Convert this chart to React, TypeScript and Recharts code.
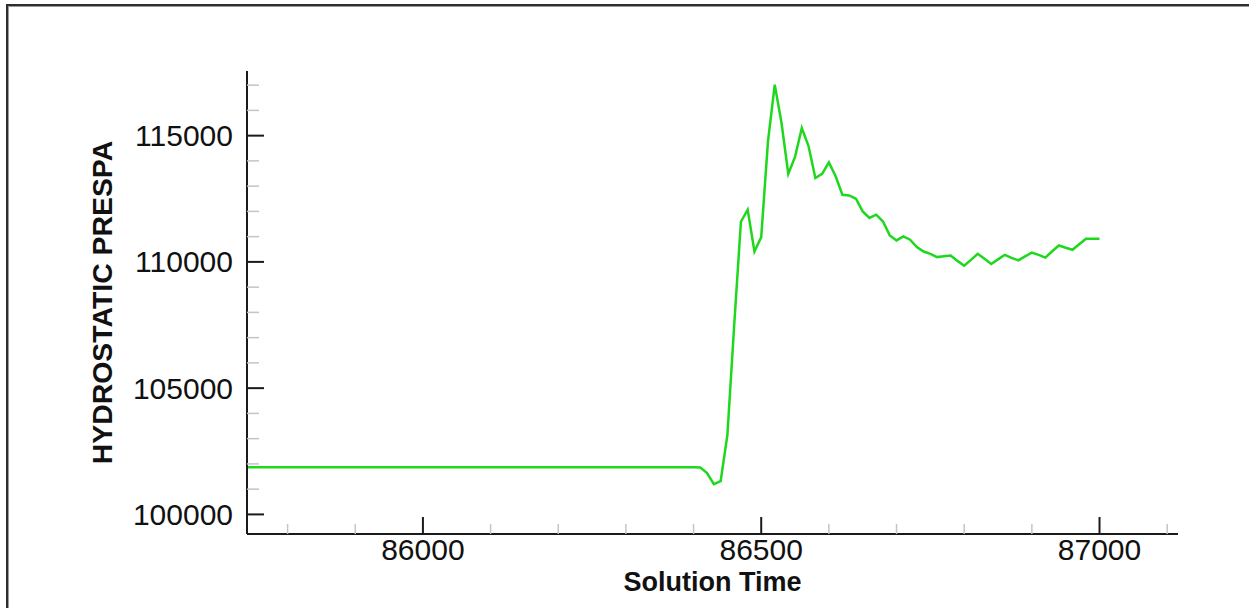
import { LineChart, Line, XAxis, YAxis } from 'recharts'

const solutionTime = [
  85740, 85800, 85900, 86000, 86100, 86200, 86300, 86400, 86410, 86420,
  86430, 86440, 86450, 86460, 86470, 86480, 86490, 86500, 86510, 86520,
  86530, 86540, 86550, 86560, 86570, 86580, 86590, 86600, 86610, 86620,
  86630, 86640, 86650, 86660, 86670, 86680, 86690, 86700, 86710, 86720,
  86730, 86740, 86750, 86760, 86770, 86780, 86790, 86800, 86810, 86820,
  86830, 86840, 86850, 86860, 86870, 86880, 86890, 86900, 86910, 86920,
  86930, 86940, 86950, 86960, 86970, 86980, 86990, 87000,
]

const hydrostaticPrespa = [
  101870, 101870, 101870, 101870, 101870, 101870, 101870, 101870, 101860, 101640,
  101200, 101320, 103140, 107470, 111590, 112070, 110410, 110980, 114770, 117020,
  115500, 113490, 114160, 115300, 114580, 113320, 113490, 113940, 113390, 112660,
  112630, 112500, 112000, 111740, 111870, 111600, 111050, 110850, 111010, 110880,
  110590, 110410, 110320, 110190, 110220, 110250, 110040, 109850, 110080, 110320,
  110120, 109920, 110100, 110280, 110160, 110060, 110220, 110370, 110280, 110170,
  110420, 110650, 110560, 110480, 110700, 110920, 110920, 110920,
]

const xTicks = [
  85800, 85900, 86000, 86100, 86200, 86300, 86400, 86500, 86600, 86700,
  86800, 86900, 87000, 87100,
]
const xMajorTicks = [86000, 86500, 87000]

const yTicks = [
  100000, 101000, 102000, 103000, 104000, 105000, 106000, 107000, 108000,
  109000, 110000, 111000, 112000, 113000, 114000, 115000, 116000, 117000,
]
const yMajorTicks = [100000, 105000, 110000, 115000]

const data = solutionTime.map((t, i) => ({ time: t, pressure: hydrostaticPrespa[i] }))

const FONT = '"Liberation Sans", Arial, sans-serif'
const Y_GAP = 14

const YTick = (props: any) => {
  const { x, y, payload } = props
  const major = yMajorTicks.includes(payload.value)
  const ax = x + Y_GAP
  return (
    <g>
      <line x1={ax} x2={ax + (major ? 17 : 12)} y1={y} y2={y}
        stroke={major ? '#1a1a1a' : '#c4c4c4'} strokeWidth={major ? 2 : 1.5} />
      {major && (
        <text x={x} y={y} textAnchor="end" dominantBaseline="central"
          fontFamily={FONT} fontSize={30} fill="#111">
          {payload.value}
        </text>
      )}
    </g>
  )
}

const XTick = (props: any) => {
  const { x, y, payload } = props
  const major = xMajorTicks.includes(payload.value)
  return (
    <g>
      <line x1={x} x2={x} y1={y} y2={y - (major ? 17 : 10)}
        stroke={major ? '#1a1a1a' : '#c4c4c4'} strokeWidth={major ? 2 : 1.5} />
      {major && (
        <text x={x} y={y + 26} textAnchor="middle"
          fontFamily={FONT} fontSize={30} fill="#111">
          {payload.value}
        </text>
      )}
    </g>
  )
}

const YTitle = (props: any) => {
  const { viewBox } = props
  const cx = viewBox.x + 102
  const cy = viewBox.y + viewBox.height / 2
  return (
    <text x={cx} y={cy} transform={`rotate(-90, ${cx}, ${cy})`} textAnchor="middle"
      dominantBaseline="central" fontFamily={FONT} fontSize={28.4} fontWeight="bold" fill="#111">
      HYDROSTATIC PRESPA
    </text>
  )
}

const XTitle = (props: any) => {
  const { viewBox } = props
  return (
    <text x={viewBox.x + viewBox.width / 2} y={viewBox.y + 57} textAnchor="middle"
      fontFamily={FONT} fontSize={27} fontWeight="bold" fill="#111">
      Solution Time
    </text>
  )
}

export default function App() {
  return (
    <div style={{ position: 'absolute', left: 0, top: 0, width: 1249, height: 608, background: '#fff', overflow: 'hidden' }}>
      <div style={{
        position: 'absolute', left: 6, top: 4, width: 1260, height: 620,
        borderTop: '2px solid #2e2e2e', borderLeft: '2px solid #2e2e2e',
        boxShadow: 'inset 1px 1px 0 #9a9a9a',
      }} />
      <div style={{ position: 'absolute', left: 0, top: 0 }}>
        <LineChart width={1249} height={608} data={data}
          margin={{ top: 71, right: 71, bottom: 0, left: 0 }}>
          <XAxis dataKey="time" type="number" domain={[85740, 87116]} allowDataOverflow
            ticks={xTicks} interval={0} tickSize={0} tickMargin={0} tick={<XTick />}
            height={74} axisLine={{ stroke: '#1a1a1a', strokeWidth: 2 }} tickLine={false}
            label={<XTitle />} />
          <YAxis type="number" domain={[99224, 117560]} allowDataOverflow
            ticks={yTicks} interval={0} tickSize={0} tickMargin={Y_GAP} tick={<YTick />}
            width={247} axisLine={{ stroke: '#1a1a1a', strokeWidth: 2 }} tickLine={false}
            label={<YTitle />} />
          <Line type="linear" dataKey="pressure" stroke="#1ed81e" strokeWidth={2.5}
            dot={false} isAnimationActive={false} />
        </LineChart>
      </div>
    </div>
  )
}
